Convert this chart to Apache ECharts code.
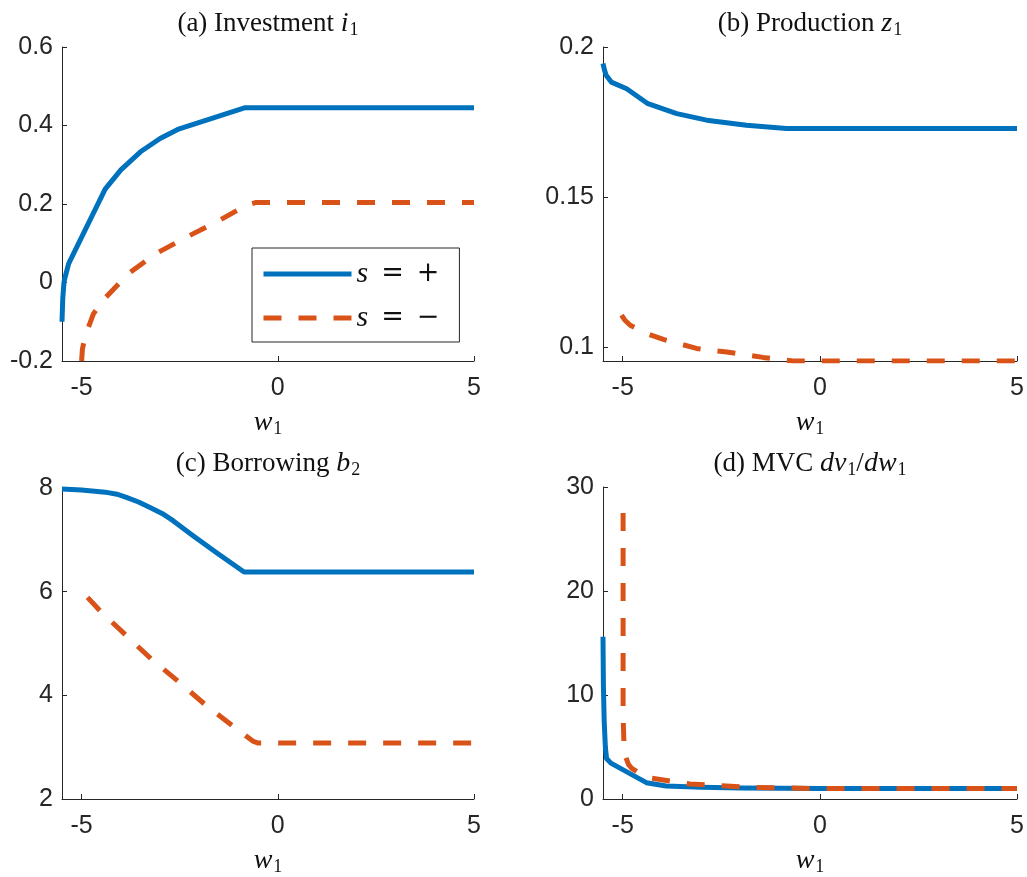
<!DOCTYPE html>
<html><head><meta charset="utf-8">
<script src="https://cdn.jsdelivr.net/npm/echarts@6/dist/echarts.min.js"></script>
<style>html,body{margin:0;padding:0;background:#fff}#c{width:1027px;height:877px}</style>
</head><body><div id="c"></div>
<script>
// ---- tick values ----
const xTicks = [-5, 0, 5];
const yTicksA = [-0.2, 0, 0.2, 0.4, 0.6];
const yTicksB = [0.1, 0.15, 0.2];
const yTicksC = [2, 4, 6, 8];
const yTicksD = [0, 10, 20, 30];

// ---- (a) Investment i1 ----
const invPosW = [-5.5, -5.48, -5.45, -5.42, -5.33, -4.4, -4.0, -3.5, -3.0, -2.55, -0.85, 5];
const invPosV = [-0.1, -0.04, 0.0, 0.014, 0.048, 0.238, 0.287, 0.333, 0.367, 0.39, 0.445, 0.445];
const invNegW = [-5.0, -4.98, -4.93, -4.87, -4.7, -4.45, -3.8, -3.1, -2.3, -1.55, -0.8, -0.55, 5];
const invNegV = [-0.2, -0.17, -0.145, -0.126, -0.08, -0.045, 0.023, 0.074, 0.117, 0.155, 0.197, 0.204, 0.204];

// ---- (b) Production z1 ----
const prodPosW = [-5.5, -5.46, -5.42, -5.29, -4.9, -4.36, -3.63, -2.87, -1.86, -0.85, 5];
const prodPosV = [0.1945, 0.1922, 0.1906, 0.1883, 0.1861, 0.1811, 0.1778, 0.1756, 0.1739, 0.1728, 0.1728];
const prodNegW = [-5.03, -4.95, -4.81, -4.4, -3.97, -3.13, -2.36, -1.44, -0.68, 5];
const prodNegV = [0.1106, 0.109, 0.1072, 0.1045, 0.1025, 0.0995, 0.0983, 0.0965, 0.0953, 0.0953];

// ---- (c) Borrowing b2 ----
const borPosW = [-5.5, -5.0, -4.4, -4.1, -3.86, -3.55, -3.27, -2.95, -2.67, -2.16, -1.56, -0.86, 5];
const borPosV = [7.98, 7.96, 7.92, 7.88, 7.82, 7.73, 7.63, 7.51, 7.37, 7.08, 6.75, 6.38, 6.38];
const borNegW = [-4.85, -4.53, -3.9, -3.21, -2.54, -1.85, -1.13, -0.62, -0.5, 5];
const borNegV = [5.89, 5.63, 5.18, 4.69, 4.27, 3.82, 3.40, 3.11, 3.08, 3.08];

// ---- (d) MVC dv1/dw1 ----
const mvcPosW = [-5.5, -5.49, -5.47, -5.44, -5.41, -5.3, -4.4, -3.9, -3.0, -2.0, 0, 5];
const mvcPosV = [15.6, 11, 7.5, 5.0, 3.9, 3.45, 1.57, 1.25, 1.12, 1.05, 1.0, 1.0];
const mvcNegW = [-4.99, -4.99, -4.97, -4.94, -4.85, -4.77, -4.5, -4.26, -3.3, -1.7, 0, 5];
const mvcNegV = [27.5, 8, 5.5, 4.2, 3.3, 2.95, 2.3, 1.99, 1.44, 1.12, 1.0, 1.0];

const titlesText = [
  '{t|(a) Investment }{m|i}{s|1}',
  '{t|(b) Production }{m|z}{s|1}',
  '{t|(c) Borrowing }{m|b}{s|2}',
  '{t|(d) MVC }{m|dv}{s|1}{t|/}{m|dw}{s|1}'
];

function pairs(w, v) { return w.map((x, i) => [x, v[i]]); }

const BLUE = '#0072BD', ORANGE = '#D95319', AX = '#262626', TXT = '#111';
const SERIF = 'Liberation Serif';
const grids = [
  {left: 62, top: 47, width: 412, height: 314},
  {left: 603, top: 47, width: 414, height: 314},
  {left: 62, top: 488, width: 412, height: 311},
  {left: 603, top: 487, width: 414, height: 312}
];
const yRanges = [
  {min: -0.2, max: 0.6, ticks: yTicksA},
  {min: 0.0953, max: 0.2, ticks: yTicksB},
  {min: 2, max: 8, ticks: yTicksC},
  {min: 0, max: 30, ticks: yTicksD}
];
const titleCenters = [268, 810, 268, 810];
const titleTops = [10, 10, 450, 450];

const mathRich = {
  t: {fontFamily: SERIF, fontSize: 27, fontWeight: 'normal', color: TXT, lineHeight: 28, verticalAlign: 'top'},
  m: {fontFamily: SERIF, fontStyle: 'italic', fontSize: 28, fontWeight: 'normal', color: TXT, lineHeight: 28, verticalAlign: 'top'},
  s: {fontFamily: SERIF, fontSize: 18, fontWeight: 'normal', color: TXT, lineHeight: 18, padding: [11, 0, 0, 1], verticalAlign: 'top'}
};

const xAxes = grids.map((g, i) => ({
  type: 'value', gridIndex: i, min: -5.5, max: 5,
  axisLine: {show: true, onZero: false, lineStyle: {color: AX, width: 1}},
  axisTick: {show: true, inside: true, length: 5, customValues: xTicks, lineStyle: {color: AX, width: 1}},
  axisLabel: {customValues: xTicks, color: AX, fontFamily: 'Liberation Sans', fontSize: 25, margin: 15},
  splitLine: {show: false},
  name: '{m|w}{s|1}', nameLocation: 'middle', nameGap: 48,
  nameTextStyle: {rich: mathRich}
}));
const yAxes = grids.map((g, i) => ({
  type: 'value', gridIndex: i, min: yRanges[i].min, max: yRanges[i].max,
  axisLine: {show: true, onZero: false, lineStyle: {color: AX, width: 1}},
  axisTick: {show: true, inside: true, length: 5, customValues: yRanges[i].ticks, lineStyle: {color: AX, width: 1}},
  axisLabel: {customValues: yRanges[i].ticks, color: AX, fontFamily: 'Liberation Sans', fontSize: 25, margin: 9},
  splitLine: {show: false}
}));

function ser(name, i, data, dashed) {
  return {
    type: 'line', name: name, xAxisIndex: i, yAxisIndex: i, data: data,
    symbol: 'none', showSymbol: false, smooth: false, animation: false,
    z: dashed ? 3 : 2,
    lineStyle: {color: dashed ? ORANGE : BLUE, width: 5, type: dashed ? [18, 17] : 'solid', cap: 'butt', join: 'round'},
    itemStyle: {color: dashed ? ORANGE : BLUE}
  };
}

const series = [
  ser('s+', 0, pairs(invPosW, invPosV), false),
  ser('s-', 0, pairs(invNegW, invNegV), true),
  ser('s+', 1, pairs(prodPosW, prodPosV), false),
  ser('s-', 1, pairs(prodNegW, prodNegV), true),
  ser('s+', 2, pairs(borPosW, borPosV), false),
  ser('s-', 2, pairs(borNegW, borNegV), true),
  ser('s+', 3, pairs(mvcPosW, mvcPosV), false),
  ser('s-', 3, pairs(mvcNegW, mvcNegV), true)
];

const chart = echarts.init(document.getElementById('c'), null, {renderer: 'canvas'});
chart.setOption({
  backgroundColor: '#fff',
  animation: false,
  grid: grids,
  xAxis: xAxes,
  yAxis: yAxes,
  title: titlesText.map((t, i) => ({
    text: t, left: titleCenters[i], top: titleTops[i], textAlign: 'center', padding: 0,
    textStyle: {fontWeight: 'normal', rich: mathRich}
  })),
  legend: {
    show: true, orient: 'vertical', left: 252, top: 248, data: ['s+', 's-'],
    itemWidth: 88, itemHeight: 6, itemGap: 14, padding: [11, 20, 9, 9],
    borderColor: AX, borderWidth: 1, backgroundColor: '#fff', selectedMode: false,
    lineStyle: {width: 5, cap: 'butt'},
    itemStyle: {color: 'rgba(0,0,0,0)', borderWidth: 0, opacity: 0},
    formatter: function (n) { return n === 's+' ? '{m|s}{e|=}{e|+}' : '{m|s}{e|=}{e|\u2212}'; },
    textStyle: {
      rich: {
        m: {fontFamily: SERIF, fontStyle: 'italic', fontSize: 30, color: TXT, lineHeight: 30},
        e: {fontFamily: 'DejaVu Serif', fontSize: 27, color: TXT, lineHeight: 30, padding: [0, 0, 0, 13]}
      }
    }
  },
  series: series
});
</script>
</body></html>
